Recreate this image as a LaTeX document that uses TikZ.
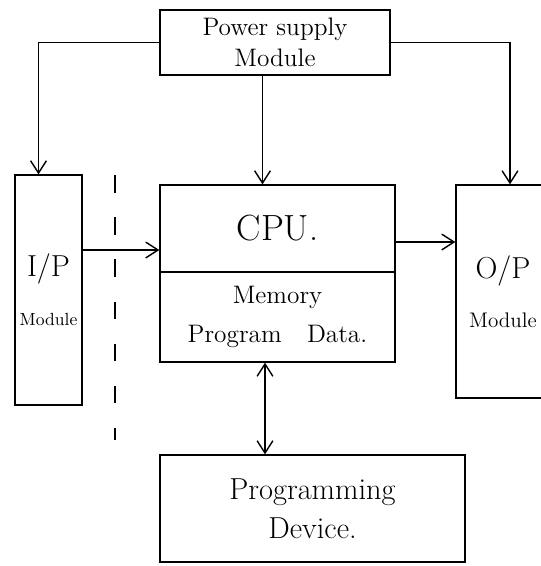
\documentclass[tikz,border=0pt]{standalone}
\usepackage{amsmath,amssymb}
\usetikzlibrary{arrows.meta}
\begin{document}
\begin{tikzpicture}[x=0.02cm,y=-0.02cm,
  blk/.style={draw, thick, rectangle, align=center, inner sep=2pt},
  line/.style={thick, >={Straight Barb[length=7pt,width=9pt]}}]
\useasboundingbox (0,0) rectangle (541,566);
\node[blk, minimum width=4.6cm, minimum height=1.3cm, font=\Large] (psu) at (275,42.5) {Power supply\\ Module};
\node[blk, minimum width=4.7cm, minimum height=1.74cm, font=\huge] (cpu) at (277.5,228.5) {CPU.};
\node[blk, minimum width=4.7cm, minimum height=1.8cm, font=\Large] (mem) at (277.5,317) {Memory\\[4pt] Program\quad Data.};
\node[blk, inner xsep=0pt, minimum width=1.34cm, minimum height=4.6cm, font=\LARGE] (ip) at (48.5,290) {I/P\\[6pt] {\normalsize Module}};
\node[blk, minimum width=1.88cm, minimum height=4.26cm, font=\LARGE] (op) at (503,291.5) {O/P\\[6pt] {\large Module}};
\node[blk, minimum width=6.1cm, minimum height=2.14cm, font=\LARGE] (prog) at (312.5,508.5) {Programming\\ Device.};
%% supply lines
\draw[line,->] (psu.west) -| ([xshift=-0.2cm]ip.north); %%Left
\draw[line,->] ([xshift=-0.25cm]psu.south) -- ([xshift=-0.25cm]psu.south |- cpu.north);
\draw[line,->] (psu.east) -| ([xshift=0.14cm]op.north); %%Right
%% data flow
\draw[line,->] ([yshift=0.8cm]ip.east) -- ([yshift=0.8cm]ip.east -| cpu.west);
\draw[line,->] ([yshift=-0.27cm]cpu.east) -- ([yshift=-0.27cm]cpu.east -| op.west);
\draw[line,<->] ([xshift=-0.25cm]mem.south) -- ([xshift=-0.25cm]mem.south |- prog.north);
%% dashed divider
\coordinate (T) at (115,175);
\coordinate (B) at (115,440);
\draw[thick, dash pattern=on 10pt off 14pt] (T) -- (B);
\end{tikzpicture}
\end{document}
